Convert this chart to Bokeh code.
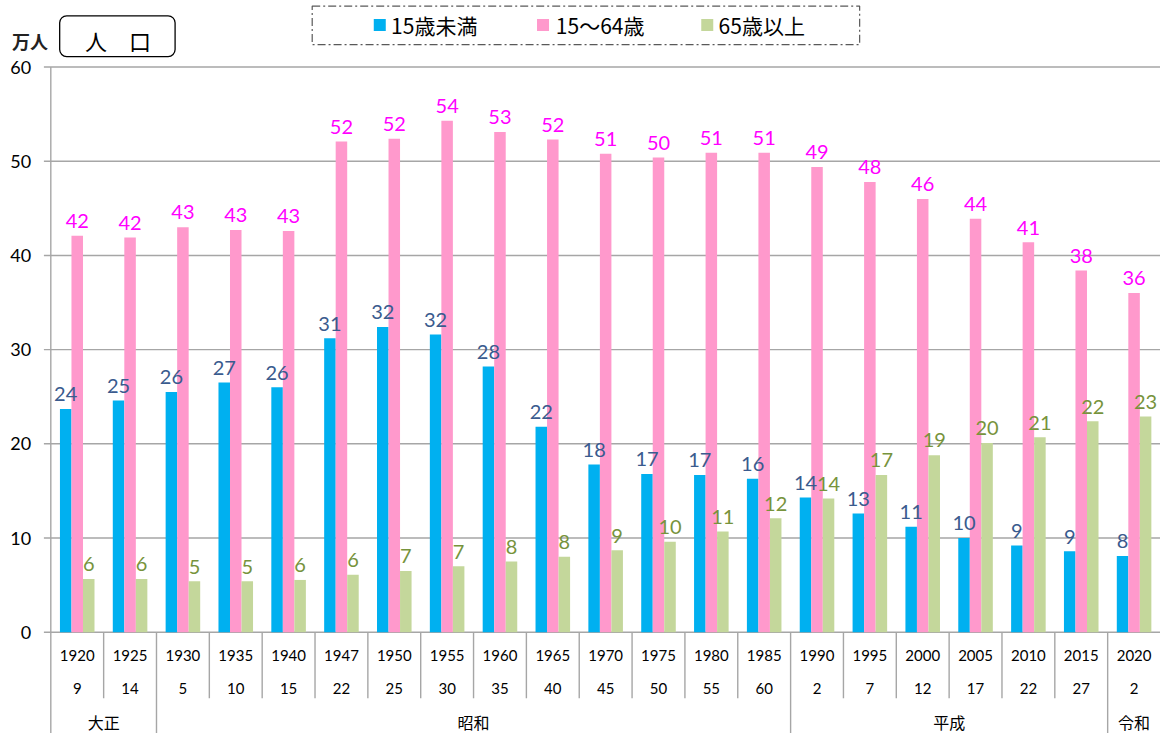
import numpy as np
from bokeh.plotting import figure
from bokeh.models import Range1d
from bokeh.core.properties import value
from bokeh.embed import file_html
from bokeh.resources import INLINE

# ---------------- data ----------------
years = [1920, 1925, 1930, 1935, 1940, 1947, 1950, 1955, 1960, 1965, 1970,
         1975, 1980, 1985, 1990, 1995, 2000, 2005, 2010, 2015, 2020]
era_years = [9, 14, 5, 10, 15, 22, 25, 30, 35, 40, 45, 50, 55, 60,
             2, 7, 12, 17, 22, 27, 2]
eras = ["大正", "昭和", "平成", "令和"]
era_spans = [2, 12, 6, 1]
series_names = ["15歳未満", "15～64歳", "65歳以上"]
under15 = [23.7, 24.6, 25.5, 26.5, 26.0, 31.2, 32.4, 31.6, 28.2, 21.8, 17.8,
           16.8, 16.7, 16.3, 14.3, 12.6, 11.2, 10.0, 9.2, 8.6, 8.1]
age15_64 = [42.1, 41.9, 43.0, 42.7, 42.6, 52.1, 52.4, 54.3, 53.1, 52.3, 50.8,
            50.4, 50.9, 50.9, 49.4, 47.8, 46.0, 43.9, 41.4, 38.4, 36.0]
over65 = [5.65, 5.65, 5.4, 5.4, 5.55, 6.1, 6.5, 7.0, 7.5, 8.0, 8.7,
          9.6, 10.7, 12.1, 14.2, 16.7, 18.8, 20.1, 20.7, 22.4, 22.9]
y_ticks = [0, 10, 20, 30, 40, 50, 60]
y_unit = "万人"
title_text = "人　口"

# ---------------- layout ----------------
W, H = 1160, 733
REF_W, REF_H = 1176, 749
n = len(years)

# reference-pixel geometry of the plotting area
AX_X, RIGHT_X = 51.0, 1176.0
Y0_R, Y60_R = 645.5, 68.0
cw_r = (RIGHT_X - AX_X) / n
ppu_r = (Y0_R - Y60_R) / 60.0


def rx(px):
    """reference x pixel -> data x"""
    return (px - AX_X) / cw_r


def ry(py):
    """reference y pixel -> data y"""
    return (Y0_R - py) / ppu_r


GRAY = "#A6A6A6"
COLORS = ["#00B0F0", "#FF99CC", "#C4D79B"]
LABEL_COLORS = ["#3A5B8E", "#FF00FF", "#77933C"]
NUM_FONT = value("Lato")
JP_FONT = value("Noto Sans CJK JP")

p = figure(width=W, height=H, output_backend="svg", toolbar_location=None,
           x_range=Range1d(rx(0), rx(REF_W)), y_range=Range1d(ry(REF_H), ry(0)),
           x_axis_location=None, y_axis_location=None,
           min_border_left=0, min_border_right=0,
           min_border_top=0, min_border_bottom=0)
p.outline_line_color = None
p.background_fill_color = "white"
p.border_fill_color = "white"
p.grid.visible = False

# value grid lines (extended left as tick marks) and tick labels
p.segment(x0=[rx(44)] * len(y_ticks), y0=y_ticks, x1=[n] * len(y_ticks), y1=y_ticks,
          line_color=GRAY, line_width=1.4)
p.text(x=[rx(31)] * len(y_ticks), y=y_ticks, text=[str(t) for t in y_ticks],
       text_align="right", text_baseline="middle", text_font=NUM_FONT,
       text_font_size="18px", text_color="black")

# value axis line and table lines
era_edges = np.cumsum([0] + era_spans)
p.segment(x0=[0], y0=[60], x1=[0], y1=[ry(REF_H)], line_color=GRAY, line_width=1.4)
inner = [b for b in range(1, n) if b not in era_edges]
p.segment(x0=inner, y0=[0] * len(inner), x1=inner, y1=[ry(713)] * len(inner),
          line_color=GRAY, line_width=1.4)
eb = [int(b) for b in era_edges[1:-1]]
p.segment(x0=eb, y0=[0] * len(eb), x1=eb, y1=[ry(REF_H)] * len(eb),
          line_color=GRAY, line_width=1.4)

# bars
centers = np.arange(n) + 0.5
bw = 0.218
series = [under15, age15_64, over65]
for k, (vals, col) in enumerate(zip(series, COLORS)):
    p.vbar(x=centers + (k - 1) * bw, top=vals, bottom=0, width=bw,
           fill_color=col, line_color=None)

# data labels (drawn after all bars)
label_off = 15.0 / ppu_r
for k, (vals, lcol) in enumerate(zip(series, LABEL_COLORS)):
    p.text(x=centers + (k - 1) * bw, y=np.array(vals) + label_off,
           text=[str(int(v + 0.5)) for v in vals],
           text_align="center", text_baseline="alphabetic",
           text_font=NUM_FONT, text_font_size="20px", text_color=lcol)

# table text
p.text(x=centers, y=[ry(669)] * n, text=[str(y) for y in years],
       text_align="center", text_baseline="middle",
       text_font=NUM_FONT, text_font_size="15px", text_color="black")
p.text(x=centers, y=[ry(703)] * n, text=[str(y) for y in era_years],
       text_align="center", text_baseline="middle",
       text_font=NUM_FONT, text_font_size="15px", text_color="black")
era_centers = (era_edges[:-1] + era_edges[1:]) / 2.0
p.text(x=era_centers, y=[ry(737)] * len(eras), text=eras,
       text_align="center", text_baseline="middle",
       text_font=JP_FONT, text_font_size="16px", text_color="black")

# unit label
p.text(x=[rx(30)], y=[ry(41)], text=[y_unit], text_align="center",
       text_baseline="middle", text_font=JP_FONT, text_font_size="18px",
       text_font_style="bold", text_color="#222222")

# title box
p.quad(left=[rx(60)], right=[rx(177)], top=[ry(15.7)], bottom=[ry(57.3)],
       border_radius=7, fill_color=None, line_color="black", line_width=1.3)
p.text(x=[rx(119)], y=[ry(40)], text=[title_text], text_align="center",
       text_baseline="middle", text_font=JP_FONT, text_font_size="22px",
       text_color="black")

# legend
p.quad(left=[rx(316)], right=[rx(871)], top=[ry(5.7)], bottom=[ry(45)],
       fill_color=None, line_color="#595959", line_width=1.2, line_dash="8 3 2 3")
sq_x = [384.5, 550, 716.5]
tx_x = [396, 563, 728]
p.rect(x=[rx(v) for v in sq_x], y=[ry(25)] * 3, width=12, height=12,
       width_units="screen", height_units="screen", fill_color=COLORS, line_color=None)
p.text(x=[rx(v) for v in tx_x], y=[ry(25)] * 3, text=series_names,
       text_align="left", text_baseline="middle", text_font=JP_FONT,
       text_font_size="21px", text_color="black")

open("out.html", "w").write(file_html(p, INLINE))
